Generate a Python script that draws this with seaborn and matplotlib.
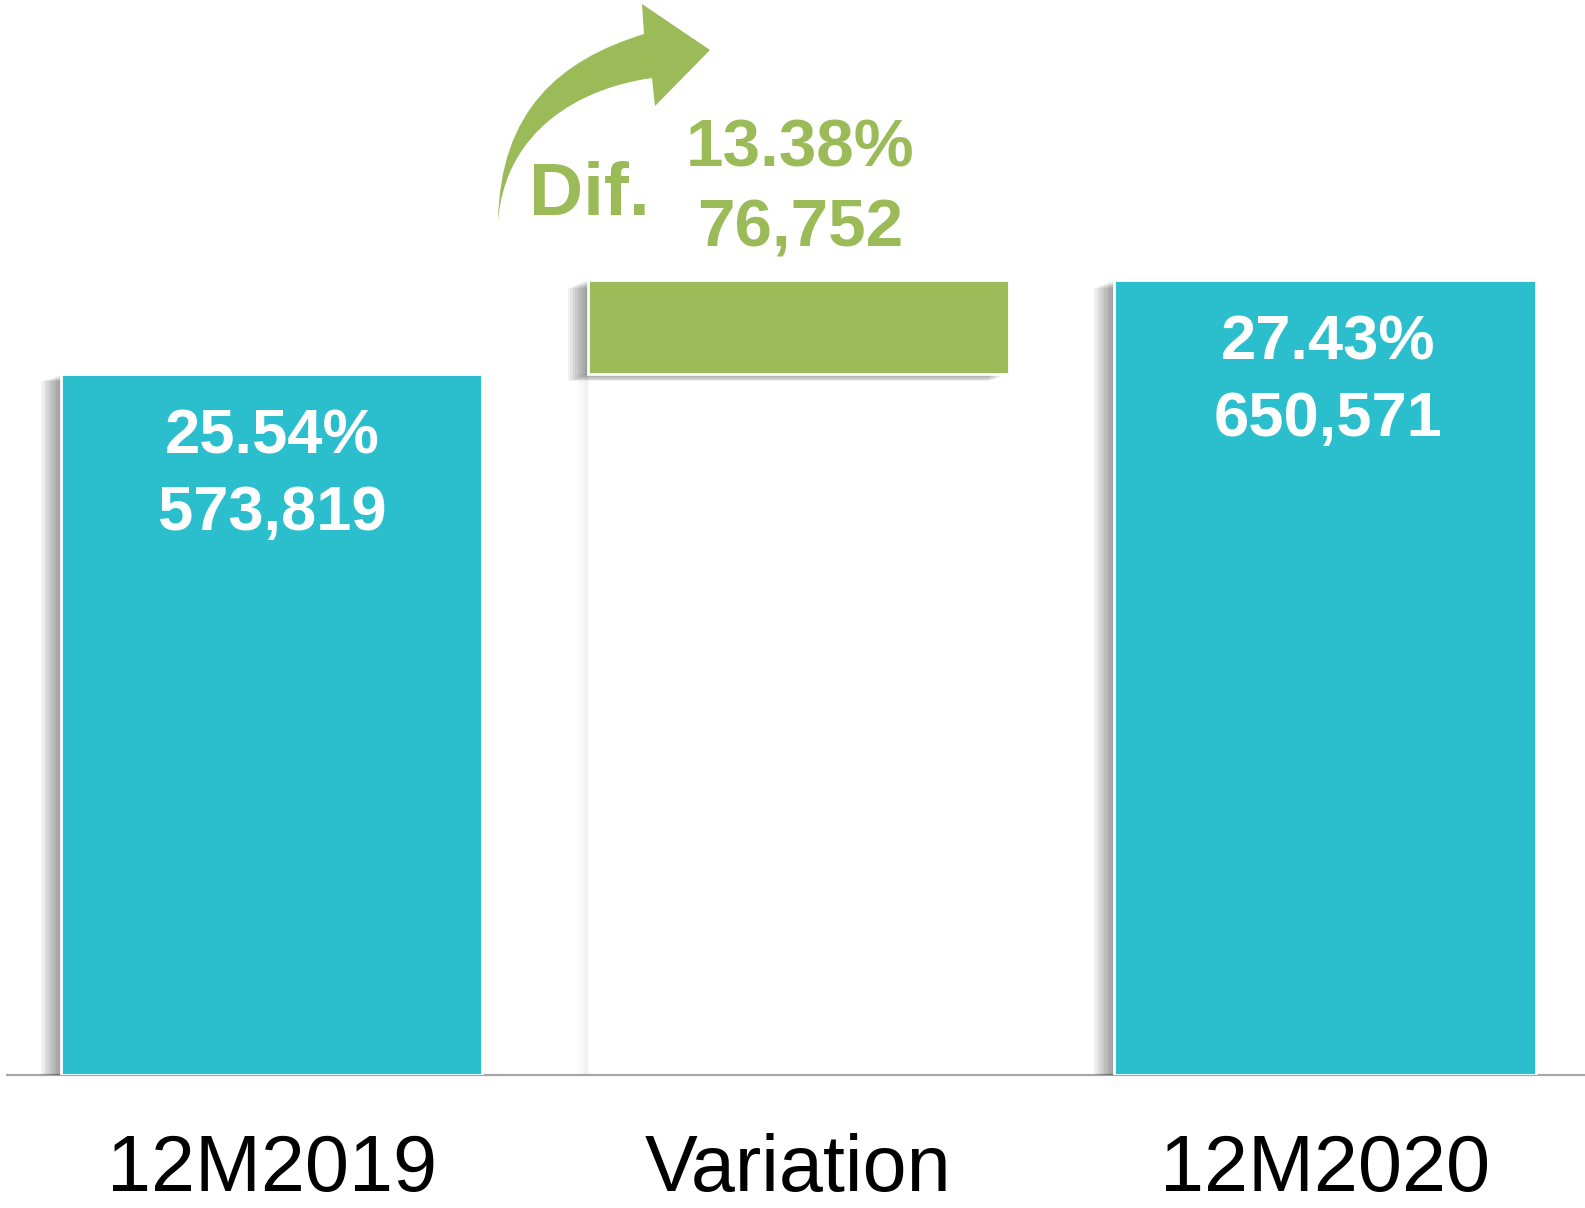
import matplotlib
matplotlib.use("Agg")
import matplotlib.pyplot as plt
import matplotlib.patheffects as pe
from matplotlib.path import Path
from matplotlib.patches import PathPatch
import seaborn as sns

# Data
categories = ['12M2019', 'Variation', '12M2020']
values = [573819, 76752, 650571]
bases = [0, 573819, 0]
pct_labels = ['25.54%', '13.38%', '27.43%']
num_labels = ['573,819', '76,752', '650,571']

teal = '#2BBFCD'
green = '#9BBB59'
bar_colors = [teal, green, teal]

sns.set_theme(style="white")
plt.rcParams['font.family'] = ['Liberation Sans', 'DejaVu Sans']

W, H = 1585, 1208
fig = plt.figure(figsize=(W / 100, H / 100), dpi=100)
ax = fig.add_axes([7 / W, 133 / H, 1578 / W, 1075 / H])

# soft drop shadow: stacked offset copies
shadow = [pe.SimplePatchShadow(offset=(-1.8 * k, -0.7 * k), shadow_rgbFace='black', alpha=0.055)
          for k in range(1, 9)] + [pe.Normal()]
faint = [pe.SimplePatchShadow(offset=(-1.5 * k, 0), shadow_rgbFace='black', alpha=0.012)
         for k in range(1, 6)] + [pe.Normal()]

# invisible base of the floating bar (only its faint shadow shows)
sns.barplot(x=categories, y=bases, color='white', width=0.8, ax=ax,
            linewidth=0, saturation=1)
for p in ax.patches:
    p.set_path_effects(faint)
n_base = len(ax.patches)

sns.barplot(x=categories, y=values, color=teal, width=0.8, ax=ax,
            edgecolor='white', linewidth=2, saturation=1)
for i, p in enumerate(ax.patches[n_base:]):
    p.set_y(bases[i])
    p.set_facecolor(bar_colors[i])
    p.set_path_effects(shadow)
    p.set_zorder(3)

tops = [b + v for b, v in zip(bases, values)]
ax.set_ylim(0, max(tops) * 1.352)
ax.set_xlim(-0.503, 2.494)

# value labels
for i in range(len(categories)):
    txt = pct_labels[i] + '\n' + num_labels[i]
    if i == 1:
        ax.annotate(txt, xy=(i, tops[i]), xytext=(1, 24), textcoords='offset points',
                    ha='center', va='baseline', fontsize=48.5, fontweight='bold',
                    color=green, linespacing=1.38, zorder=5)
    else:
        ax.annotate(txt, xy=(i, tops[i]), xytext=(2 if i == 2 else 0, -24), textcoords='offset points',
                    ha='center', va='top', fontsize=45.5, fontweight='bold',
                    color='white', linespacing=1.38, zorder=5)

# axes styling
for s in ['top', 'left', 'right']:
    ax.spines[s].set_visible(False)
ax.spines['bottom'].set_color('#A6A6A6')
ax.spines['bottom'].set_linewidth(1.6)
ax.set_yticks([])
ax.set_xlabel('')
ax.set_ylabel('')
ax.tick_params(axis='x', length=0, pad=42, labelsize=57, labelcolor='black')

# "Dif." annotation with curved arrow
fig.text(589 / W, 1 - 215 / H, 'Dif.', ha='center', va='baseline',
         fontsize=54, fontweight='bold', color=green)

arrow_pts = [(498, 222), (500, 110), (560, 60), (644, 34),
             (642, 4), (710, 50), (655, 106), (652, 78),
             (580, 88), (505, 130), (498, 222), (498, 222)]
codes = [Path.MOVETO, Path.CURVE4, Path.CURVE4, Path.CURVE4,
         Path.LINETO, Path.LINETO, Path.LINETO, Path.LINETO,
         Path.CURVE4, Path.CURVE4, Path.CURVE4, Path.CLOSEPOLY]
arrow_path = Path([(x / W, 1 - y / H) for x, y in arrow_pts], codes)
fig.patches.append(PathPatch(arrow_path, transform=fig.transFigure,
                             facecolor=green, edgecolor='none'))

plt.savefig('out.png', dpi=100)
plt.close()
